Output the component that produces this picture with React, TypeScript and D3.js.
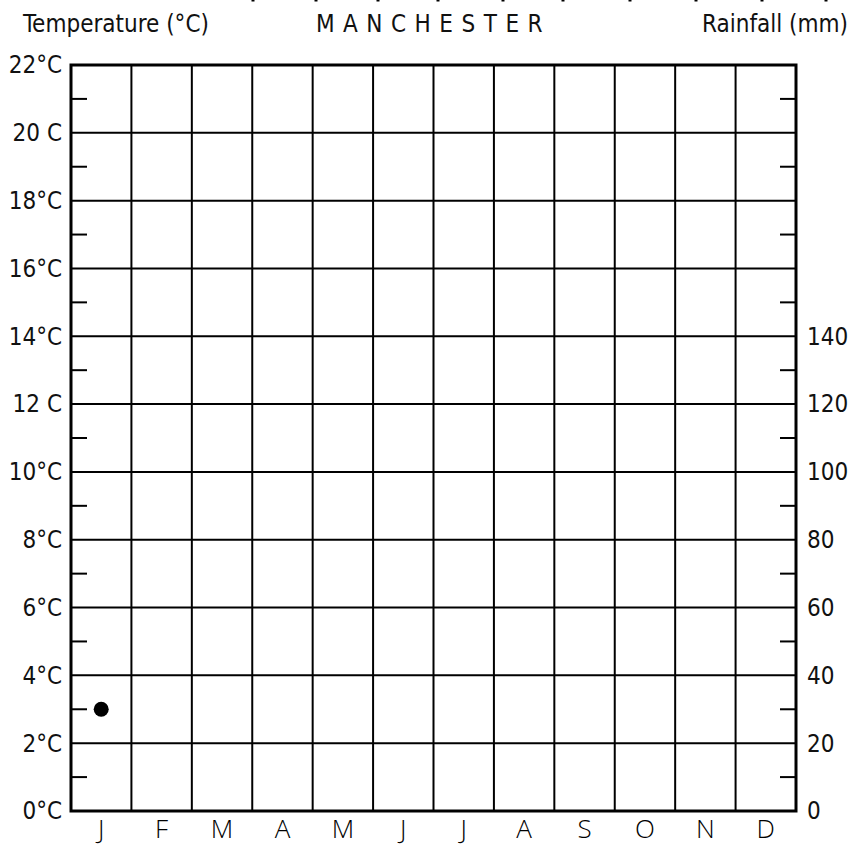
import React from "react";
import { scaleBand, scaleLinear, range } from "d3";

const months = ["J", "F", "M", "A", "M", "J", "J", "A", "S", "O", "N", "D"];
const tempTicks = [0, 2, 4, 6, 8, 10, 12, 14, 16, 18, 20, 22];
const tempLabels = ["0°C", "2°C", "4°C", "6°C", "8°C", "10°C", "12 C", "14°C", "16°C", "18°C", "20 C", "22°C"];
const minorTemps = [1, 3, 5, 7, 9, 11, 13, 15, 17, 19, 21];
const rainTicks = [0, 20, 40, 60, 80, 100, 120, 140];
// only January temperature has been plotted so far
const tempPoints = [{ month: 0, value: 3 }];
// stray marks along the top edge of the scan
const topMarks = [253, 316, 378, 438, 503, 563, 630, 696, 762, 826];

const narrow = "'Liberation Sans Narrow', 'DejaVu Sans Condensed', sans-serif";
const monthFont = "'Open Sans', 'Lato', 'DejaVu Sans', sans-serif";

function ClimateGrid({ width, height }: { width: number; height: number }) {
  const margin = { top: 65, right: 61, bottom: 35, left: 71 };
  const innerWidth = width - margin.left - margin.right,
    innerHeight = height - margin.top - margin.bottom;

  const xScale = scaleBand<number>()
    .domain(range(months.length))
    .range([0, innerWidth]);

  const yScale = scaleLinear().domain([0, 22]).range([innerHeight, 0]);
  // 10 mm of rain per degree
  const rainScale = scaleLinear().domain([0, 220]).range([innerHeight, 0]);

  return (
    <g>
      {topMarks.map((x, i) => (
        <rect key={i} x={x - 1.5} y={0} width={3} height={1.5} fill="#000" />
      ))}

      <text x={23} y={32} fontFamily={narrow} fontSize={24} fill="#111">
        Temperature (°C)
      </text>
      <text
        x={margin.left + innerWidth / 2}
        y={32}
        textAnchor="middle"
        fontFamily={narrow}
        fontSize={24}
        letterSpacing={8.5}
        fill="#111"
      >
        MANCHESTER
      </text>
      <text x={848} y={32} textAnchor="end" fontFamily={narrow} fontSize={24} fill="#111">
        Rainfall (mm)
      </text>

      <g transform={`translate(${margin.left}, ${margin.top})`}>
        {tempTicks.map(t => (
          <line
            key={t}
            x1={0}
            x2={innerWidth}
            y1={yScale(t)}
            y2={yScale(t)}
            stroke="#000"
            strokeWidth={2}
          />
        ))}
        {range(1, months.length).map(i => (
          <line
            key={i}
            x1={xScale(i)}
            x2={xScale(i)}
            y1={0}
            y2={innerHeight}
            stroke="#000"
            strokeWidth={2}
          />
        ))}
        {minorTemps.map(t => (
          <g key={t}>
            <line x1={0} x2={16} y1={yScale(t)} y2={yScale(t)} stroke="#000" strokeWidth={2} />
            <line
              x1={innerWidth - 16}
              x2={innerWidth}
              y1={yScale(t)}
              y2={yScale(t)}
              stroke="#000"
              strokeWidth={2}
            />
          </g>
        ))}
        <rect
          x={0}
          y={0}
          width={innerWidth}
          height={innerHeight}
          fill="none"
          stroke="#000"
          strokeWidth={3}
        />

        {tempTicks.map((t, i) => (
          <text
            key={t}
            x={-9}
            y={yScale(t)}
            dy="0.35em"
            textAnchor="end"
            fontFamily={narrow}
            fontSize={24}
            fill="#111"
          >
            {tempLabels[i]}
          </text>
        ))}
        {rainTicks.map(r => (
          <text
            key={r}
            x={innerWidth + 11}
            y={rainScale(r)}
            dy="0.35em"
            fontFamily={narrow}
            fontSize={24}
            fill="#111"
          >
            {r}
          </text>
        ))}
        {months.map((m, i) => (
          <text
            key={i}
            x={(xScale(i) ?? 0) + xScale.bandwidth() / 2}
            y={innerHeight + 27}
            textAnchor="middle"
            fontFamily={monthFont}
            fontWeight={300}
            fontSize={26}
            fill="#000"
          >
            {m}
          </text>
        ))}

        {tempPoints.map(d => (
          <circle
            key={d.month}
            cx={(xScale(d.month) ?? 0) + xScale.bandwidth() / 2}
            cy={yScale(d.value)}
            r={7.5}
            fill="#000"
          />
        ))}
      </g>
    </g>
  );
}

export default function App() {
  const width = 857,
    height = 846;

  return (
    <svg
      width={width}
      height={height}
      style={{ position: "absolute", left: 0, top: 0, background: "#fff" }}
    >
      <ClimateGrid width={width} height={height} />
    </svg>
  );
}
